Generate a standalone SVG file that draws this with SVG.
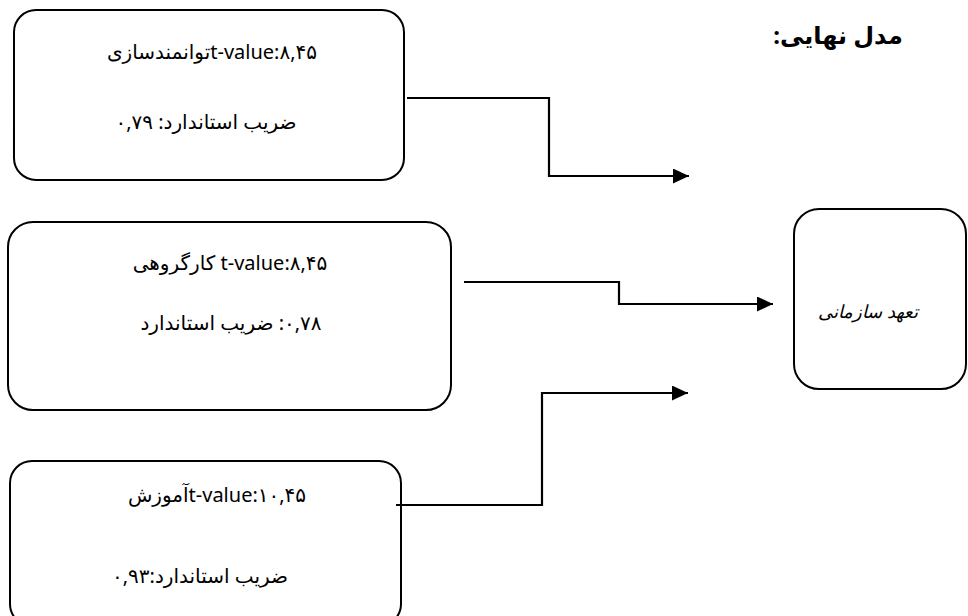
<svg xmlns="http://www.w3.org/2000/svg" width="968" height="616" viewBox="0 0 968 616">
<style>
.box{fill:#fff;stroke:#000;stroke-width:2}
.t{font-family:"Noto Sans","DejaVu Sans",sans-serif;font-size:20px;fill:#000;text-anchor:middle;direction:rtl;unicode-bidi:embed}
.c{fill:none;stroke:#000;stroke-width:2.2}
</style>
<defs>
<marker id="ah" markerUnits="userSpaceOnUse" markerWidth="17" markerHeight="16" refX="16" refY="7.5" orient="auto">
<path d="M0,0 L16,7.5 L0,15 Z" fill="#000"/>
</marker>
</defs>
<text x="838" y="44" class="t" style="font-size:24px;font-weight:bold" direction="rtl">مدل نهایی:</text>
<g id="n1">
<rect class="box" x="14" y="10" width="390" height="170" rx="22"/>
<text class="t" x="212" y="59" direction="rtl">t-value:۸,۴۵توانمندسازی</text>
<text class="t" x="206" y="129" direction="rtl">ضریب استاندارد: ۰,۷۹</text>
</g>
<g id="n2">
<rect class="box" x="8" y="222" width="443" height="188" rx="25"/>
<text class="t" x="230" y="270" direction="rtl">t-value:۸,۴۵ کارگروهی</text>
<text class="t" x="231" y="330" direction="rtl">۰,۷۸: ضریب استاندارد</text>
</g>
<g id="n3">
<rect class="box" x="10" y="461" width="391" height="165" rx="22"/>
<text class="t" x="217" y="502" direction="rtl">t-value:۱۰,۴۵آموزش</text>
<text class="t" x="200" y="583" direction="rtl">ضریب استاندارد:۰,۹۳</text>
</g>
<g id="n4">
<rect class="box" x="794" y="209" width="172" height="180" rx="25"/>
<text class="t" x="868" y="318" style="font-style:italic;font-size:18px" direction="rtl">تعهد سازمانی</text>
</g>
<g id="connectors">
<path class="c" d="M407,98 H549 V176 H689" marker-end="url(#ah)"/>
<path class="c" d="M464,282 H619 V304 H773" marker-end="url(#ah)"/>
<path class="c" d="M396,505 H542 V393 H688" marker-end="url(#ah)"/>
</g>
</svg>
